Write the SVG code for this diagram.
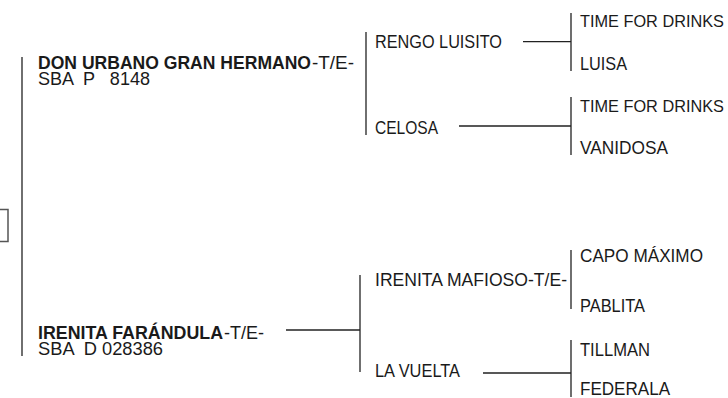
<svg xmlns="http://www.w3.org/2000/svg" width="728" height="398" viewBox="0 0 728 398">
<style>
text{font-family:"Liberation Sans","Noto Sans",sans-serif;font-size:17.5px;fill:#1a1a1a}
.b{font-weight:bold}
.s{font-size:16.4px}
.ln{stroke:#222;stroke-width:1.3;fill:none}
.box{stroke:#555;stroke-width:1.5;fill:none}
</style>
<rect width="728" height="398" fill="#fff"/>
<g id="connectors">
<path class="ln" d="M22,57V356"/>
<path class="ln" d="M366,32V135"/>
<path class="ln" d="M360,275V372"/>
<path class="ln" d="M286,330H360"/>
<path class="ln" d="M571,13V71M523,41.7H571"/>
<path class="ln" d="M571,97V155M459,126H571"/>
<path class="ln" d="M571,250V309"/>
<path class="ln" d="M571,340V397M483,373H571"/>
</g>
<g id="root"><rect class="box" x="-20" y="209.5" width="28" height="32"/></g>
<g id="sire">
<text x="38" y="69" class="b" textLength="273" lengthAdjust="spacingAndGlyphs">DON URBANO GRAN HERMANO</text>
<text x="312" y="69" textLength="42" lengthAdjust="spacingAndGlyphs">-T/E-</text>
<text x="38" y="85" xml:space="preserve" textLength="112" lengthAdjust="spacingAndGlyphs">SBA  P   8148</text>
</g>
<g id="dam">
<text x="38" y="339" class="b" textLength="185" lengthAdjust="spacingAndGlyphs">IRENITA FARÁNDULA</text>
<text x="224" y="339" textLength="40" lengthAdjust="spacingAndGlyphs">-T/E-</text>
<text x="38" y="355" xml:space="preserve" textLength="125" lengthAdjust="spacingAndGlyphs">SBA  D 028386</text>
</g>
<g id="rengo-luisito"><text x="375" y="48" textLength="127" lengthAdjust="spacingAndGlyphs">RENGO LUISITO</text></g>
<g id="celosa"><text x="375" y="134" textLength="63" lengthAdjust="spacingAndGlyphs">CELOSA</text></g>
<g id="irenita-mafioso"><text x="375" y="286" textLength="192" lengthAdjust="spacingAndGlyphs">IRENITA MAFIOSO-T/E-</text></g>
<g id="la-vuelta"><text x="375" y="377" textLength="85" lengthAdjust="spacingAndGlyphs">LA VUELTA</text></g>
<g id="time-for-drinks-1"><text x="580" y="27" class="s" textLength="144" lengthAdjust="spacingAndGlyphs">TIME FOR DRINKS</text></g>
<g id="luisa"><text x="580" y="69.5" textLength="47" lengthAdjust="spacingAndGlyphs">LUISA</text></g>
<g id="time-for-drinks-2"><text x="580" y="112" class="s" textLength="144" lengthAdjust="spacingAndGlyphs">TIME FOR DRINKS</text></g>
<g id="vanidosa"><text x="580" y="153.5" textLength="88" lengthAdjust="spacingAndGlyphs">VANIDOSA</text></g>
<g id="capo-maximo"><text x="580" y="261.5" textLength="123" lengthAdjust="spacingAndGlyphs">CAPO MÁXIMO</text></g>
<g id="pablita"><text x="580" y="311.5" textLength="65" lengthAdjust="spacingAndGlyphs">PABLITA</text></g>
<g id="tillman"><text x="580" y="356" textLength="70" lengthAdjust="spacingAndGlyphs">TILLMAN</text></g>
<g id="federala"><text x="580" y="395" textLength="90" lengthAdjust="spacingAndGlyphs">FEDERALA</text></g>
</svg>
